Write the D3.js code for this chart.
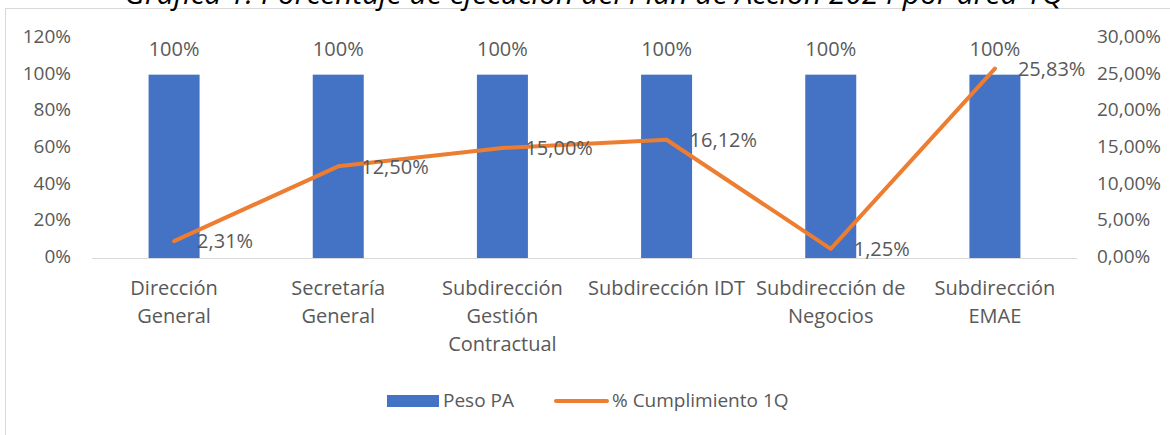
<!DOCTYPE html>
<html>
<head>
<meta charset="utf-8">
<script src="https://cdn.jsdelivr.net/npm/d3@7"></script>
<style>
  body { margin: 0; background: #fff; }
  svg { display: block; font-family: 'Open Sans', sans-serif; }
</style>
</head>
<body>
<div id="chart"></div>
<script>
const categories = [
    ['Dirección', 'General'],
    ['Secretaría', 'General'],
    ['Subdirección', 'Gestión', 'Contractual'],
    ['Subdirección IDT'],
    ['Subdirección de', 'Negocios'],
    ['Subdirección', 'EMAE']
]
const pesoPA = [100, 100, 100, 100, 100, 100]
const cumplimiento = [2.31, 12.50, 15.00, 16.12, 1.25, 25.83]
const leftTicks = [0, 20, 40, 60, 80, 100, 120]
const rightTicks = [0, 5, 10, 15, 20, 25, 30]

const W = 1170, H = 435
const margin = { top: 38, right: 93, bottom: 177, left: 92 }
const BLUE = '#4472c4', ORANGE = '#ed7d31', TXT = '#595959'

const svg = d3.select('#chart').append('svg').attr('width', W).attr('height', H)

// chart frame
svg.append('rect').attr('x', 5.5).attr('y', 8.5).attr('width', W).attr('height', H)
    .attr('fill', 'none').attr('stroke', '#d9d9d9')

// title, cut off at the top as in the source
svg.append('text').attr('x', 594).attr('y', 4)
    .attr('text-anchor', 'middle').attr('font-style', 'italic')
    .attr('font-size', '30px').attr('fill', '#000')
    .text('Gráfica 1. Porcentaje de ejecución del Plan de Acción 2024 por área 1Q')

const x = d3.scaleBand()
    .domain(categories.map((d, i) => i))
    .range([margin.left, W - margin.right])
    .paddingInner(0).paddingOuter(0)

const yL = d3.scaleLinear().domain([0, 120]).range([H - margin.bottom, margin.top])
const yR = d3.scaleLinear().domain([0, 30]).range([H - margin.bottom, margin.top])

// left axis labels
svg.selectAll('.tl').data(leftTicks).enter().append('text')
    .attr('x', 71).attr('y', d => yL(d))
    .attr('text-anchor', 'end').attr('dominant-baseline', 'middle')
    .attr('fill', TXT).attr('font-size', '19px')
    .text(d => d + '%')

// right axis labels
svg.selectAll('.tr').data(rightTicks).enter().append('text')
    .attr('x', 1097).attr('y', d => yR(d))
    .attr('dominant-baseline', 'middle')
    .attr('fill', TXT).attr('font-size', '19px')
    .text(d => d.toFixed(2).replace('.', ',') + '%')

// baseline
svg.append('line')
    .attr('x1', margin.left).attr('x2', W - margin.right)
    .attr('y1', yL(0) + 0.5).attr('y2', yL(0) + 0.5)
    .attr('stroke', '#d9d9d9').attr('stroke-width', 1)

const barW = 51
svg.selectAll('.bar').data(pesoPA).enter().append('rect')
    .attr('x', (d, i) => x(i) + x.bandwidth() / 2 - barW / 2)
    .attr('y', d => yL(d))
    .attr('width', barW)
    .attr('height', d => yL(0) - yL(d))
    .attr('fill', BLUE)

svg.selectAll('.bar-label').data(pesoPA).enter().append('text')
    .attr('x', (d, i) => x(i) + x.bandwidth() / 2)
    .attr('y', d => yL(d) - 24)
    .attr('text-anchor', 'middle').attr('dominant-baseline', 'middle')
    .attr('fill', TXT).attr('font-size', '20px')
    .text(d => d + '%')

// line
const line = d3.line()
    .x((d, i) => x(i) + x.bandwidth() / 2)
    .y(d => yR(d))

svg.append('path').datum(cumplimiento)
    .attr('d', line)
    .attr('fill', 'none').attr('stroke', ORANGE)
    .attr('stroke-width', 4).attr('stroke-linecap', 'round').attr('stroke-linejoin', 'round')

svg.selectAll('.line-label').data(cumplimiento).enter().append('text')
    .attr('x', (d, i) => x(i) + x.bandwidth() / 2 + 23)
    .attr('y', d => yR(d) + 2)
    .attr('dominant-baseline', 'middle')
    .attr('fill', TXT).attr('font-size', '20px')
    .text(d => d.toFixed(2).replace('.', ',') + '%')

// category labels
categories.forEach((lines, i) => {
    const t = svg.append('text')
        .attr('x', x(i) + x.bandwidth() / 2).attr('y', 290)
        .attr('text-anchor', 'middle').attr('dominant-baseline', 'middle')
        .attr('fill', TXT).attr('font-size', '20px')
    lines.forEach((l, j) => {
        t.append('tspan').attr('x', x(i) + x.bandwidth() / 2)
            .attr('dy', j === 0 ? 0 : 28).text(l)
    })
})

// legend
const lg = svg.append('g')
lg.append('rect').attr('x', 387).attr('y', 395).attr('width', 52).attr('height', 12).attr('fill', BLUE)
lg.append('text').attr('x', 443).attr('y', 402).attr('dominant-baseline', 'middle')
    .attr('fill', TXT).attr('font-size', '19px').text('Peso PA')
lg.append('line').attr('x1', 556).attr('x2', 607).attr('y1', 401).attr('y2', 401)
    .attr('stroke', ORANGE).attr('stroke-width', 4).attr('stroke-linecap', 'round')
lg.append('text').attr('x', 612).attr('y', 402).attr('dominant-baseline', 'middle')
    .attr('fill', TXT).attr('font-size', '19px').text('% Cumplimiento 1Q')
</script>
</body>
</html>
